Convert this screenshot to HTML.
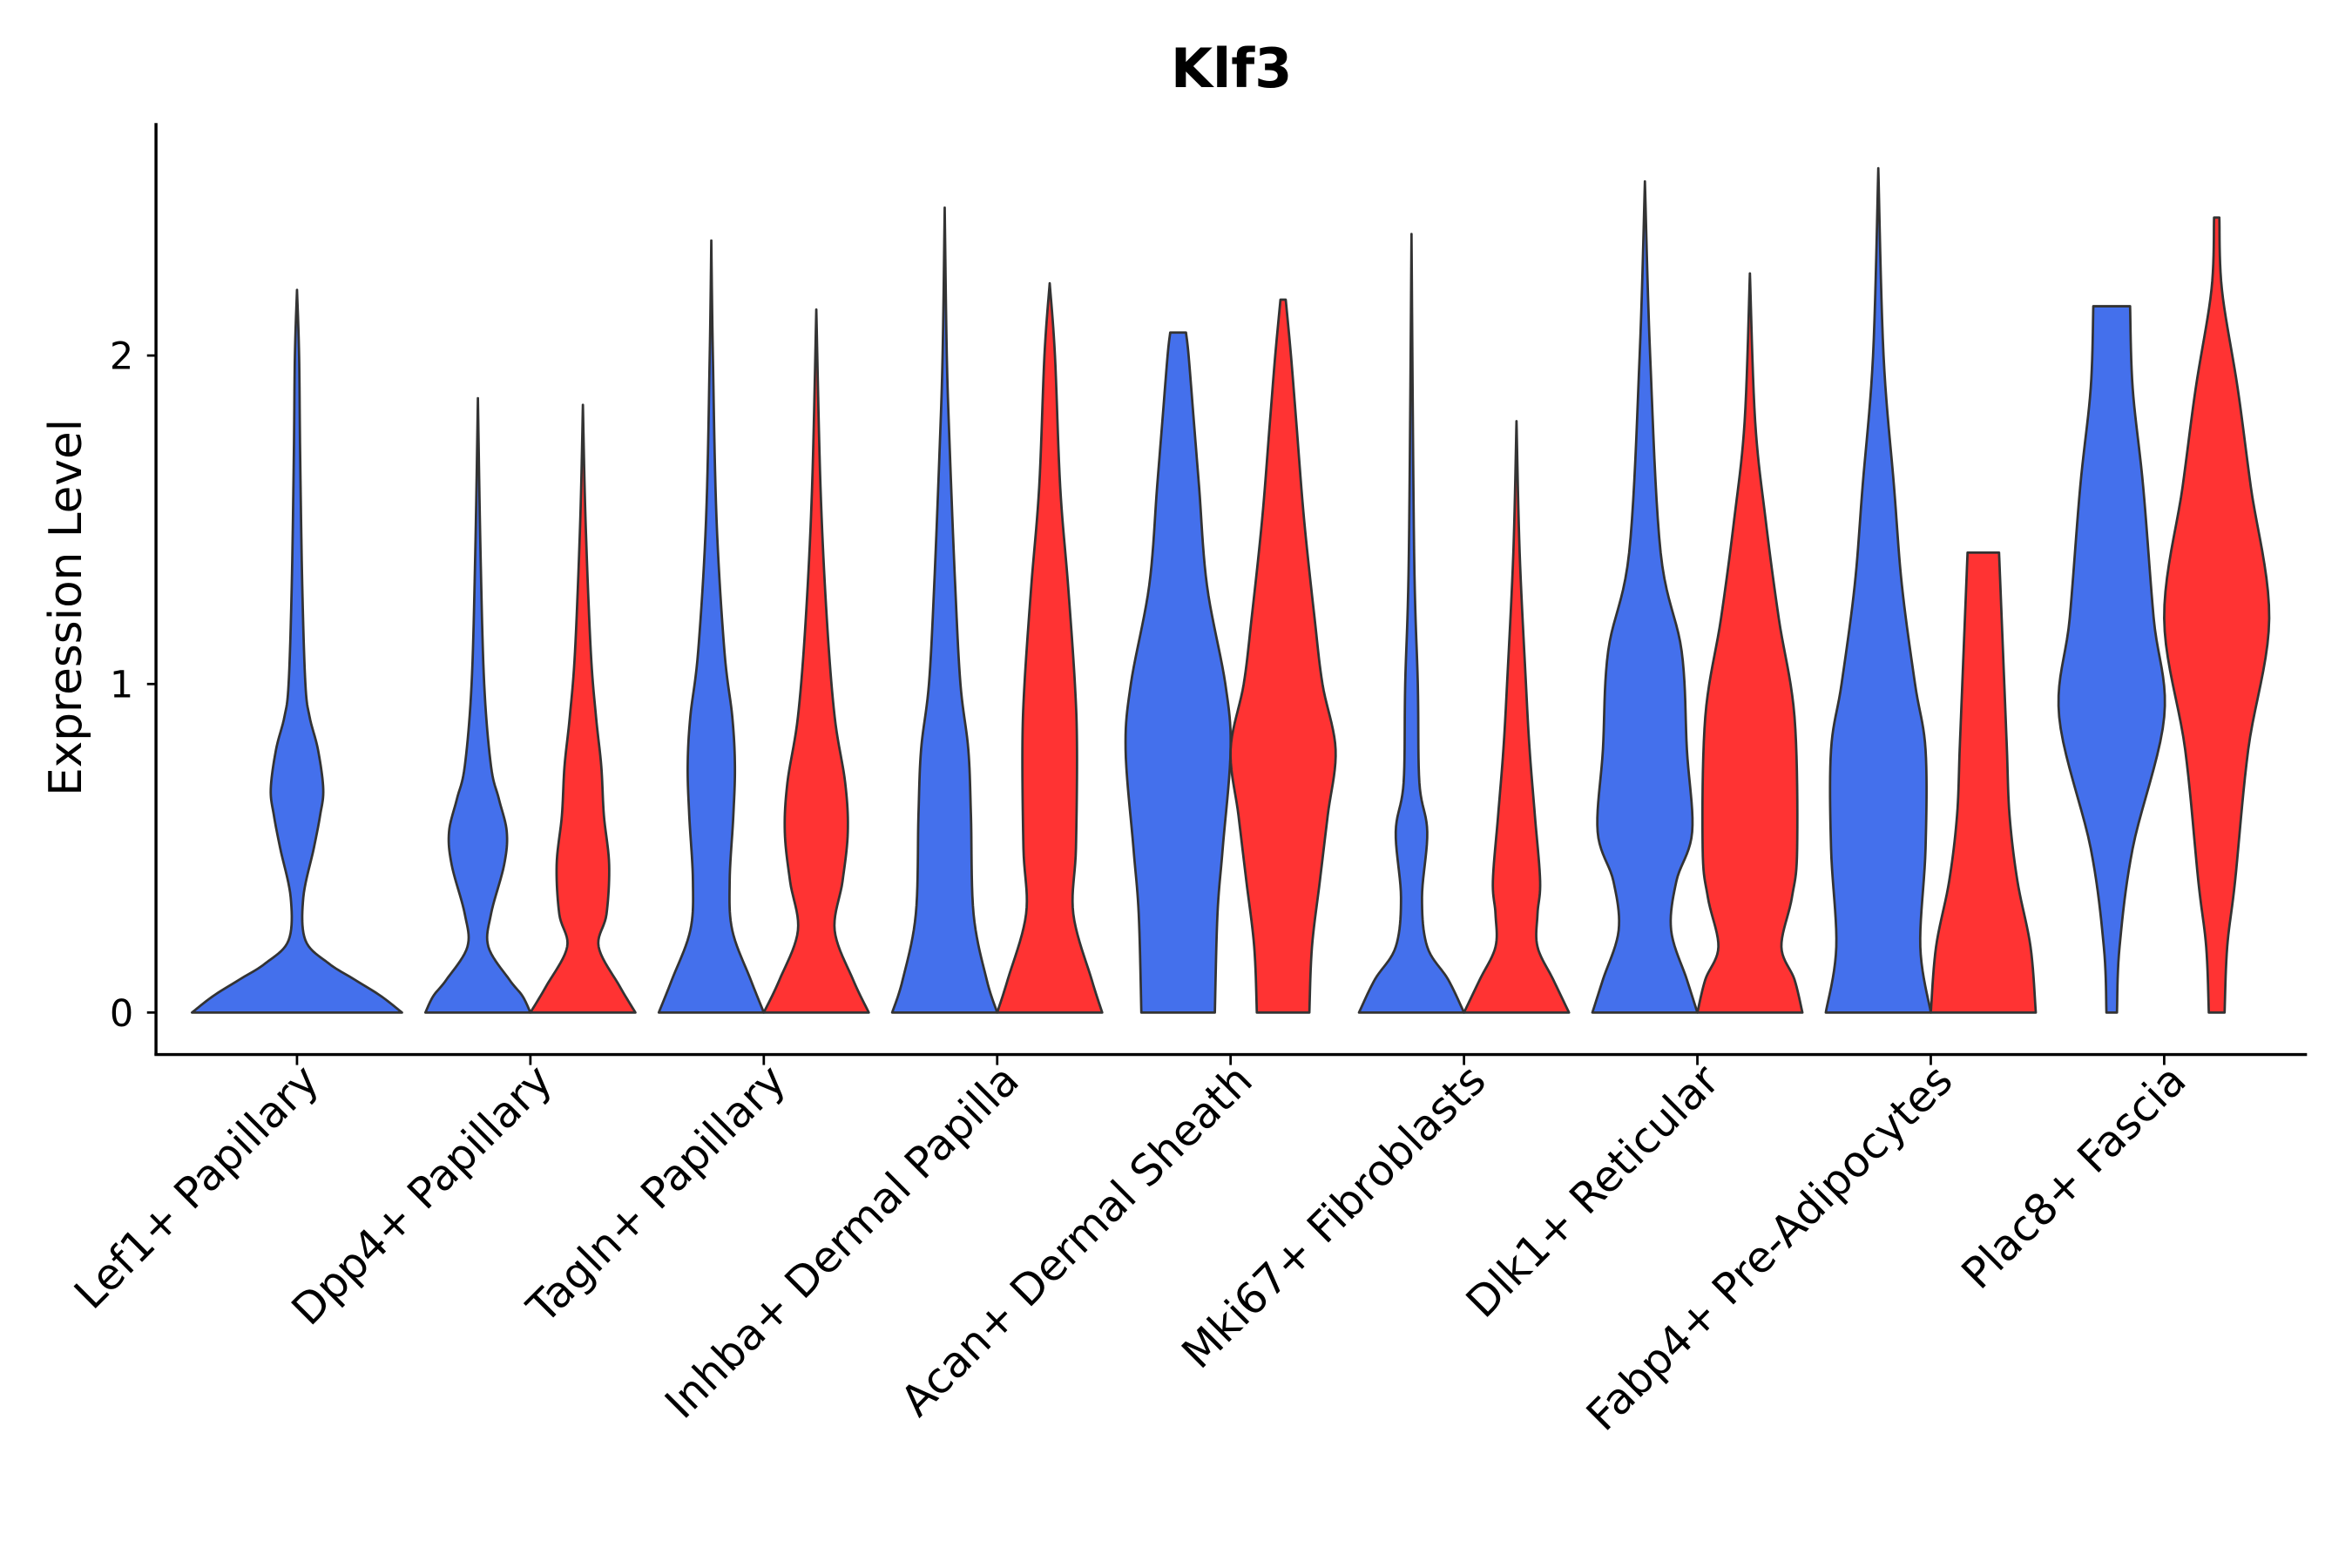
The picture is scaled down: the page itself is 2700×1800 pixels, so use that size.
<!DOCTYPE html>
<html><head><meta charset="utf-8"><style>html,body{margin:0;padding:0;background:#fff}svg{display:block}text{font-family:"DejaVu Sans","Liberation Sans",sans-serif;fill:#000}</style></head>
<body>
<svg id="chart" width="2700" height="1800" viewBox="0 0 1568 1045.3" xmlns="http://www.w3.org/2000/svg">
<text x="821" y="58" text-anchor="middle" font-size="36" font-weight="bold">Klf3</text>
<text transform="translate(54,405) rotate(-90)" text-anchor="middle" font-size="30">Expression Level</text>
<g id="marks"></g>
<line x1="104" y1="82" x2="104" y2="703.5" stroke="#000" stroke-width="2"/>
<line x1="103" y1="703" x2="1538" y2="703" stroke="#000" stroke-width="2"/>
<g id="axes"></g>
</svg>
<script>
const categories=["Lef1+ Papillary","Dpp4+ Papillary","Tagln+ Papillary","Inhba+ Dermal Papilla","Acan+ Dermal Sheath","Mki67+ Fibroblasts","Dlk1+ Reticular","Fabp4+ Pre-Adipocytes","Plac8+ Fascia"];
const yTicks=[0,1,2];
const blueProfiles=[
[[0,1],[0.05,0.8],[0.1,0.55],[0.15,0.3],[0.22,0.08],[0.35,0.06],[0.5,0.16],[0.6,0.22],[0.68,0.25],[0.8,0.2],[0.9,0.12],[1.0,0.08],[1.3,0.05],[1.7,0.03],[2.0,0.02],[2.2,0]],
[[0,1],[0.05,0.85],[0.1,0.6],[0.2,0.2],[0.3,0.25],[0.45,0.5],[0.55,0.55],[0.65,0.4],[0.75,0.25],[1.0,0.12],[1.4,0.05],[1.87,0]],
[[0,1],[0.1,0.75],[0.25,0.4],[0.4,0.35],[0.6,0.42],[0.75,0.45],[0.9,0.4],[1.1,0.25],[1.5,0.1],[2.0,0.03],[2.35,0]],
[[0,1],[0.1,0.8],[0.3,0.55],[0.6,0.5],[0.8,0.45],[1.0,0.3],[1.3,0.2],[1.7,0.1],[2.0,0.04],[2.45,0]],
[[0,0.7],[0.3,0.75],[0.5,0.85],[0.8,1.0],[1.0,0.9],[1.3,0.55],[1.6,0.4],[1.8,0.3],[2.0,0.2],[2.07,0.15]],
[[0,1],[0.1,0.7],[0.2,0.3],[0.35,0.2],[0.55,0.3],[0.7,0.15],[1.0,0.12],[1.4,0.05],[2.37,0]],
[[0,1],[0.1,0.8],[0.25,0.5],[0.4,0.6],[0.55,0.9],[0.8,0.8],[1.1,0.7],[1.4,0.3],[2.0,0.1],[2.53,0]],
[[0,1],[0.2,0.8],[0.5,0.9],[0.8,0.9],[1.0,0.7],[1.3,0.45],[1.6,0.3],[2.0,0.1],[2.57,0]],
[[0,0.1],[0.2,0.15],[0.5,0.4],[0.9,1.0],[1.2,0.8],[1.6,0.6],[1.9,0.4],[2.15,0.35]]];
const redProfiles=[
null,
[[0,1],[0.08,0.7],[0.2,0.3],[0.3,0.45],[0.45,0.5],[0.6,0.4],[0.75,0.35],[0.9,0.25],[1.1,0.15],[1.5,0.05],[1.85,0]],
[[0,1],[0.1,0.7],[0.25,0.35],[0.4,0.5],[0.55,0.6],[0.7,0.55],[0.9,0.35],[1.2,0.2],[1.6,0.08],[2.14,0]],
[[0,1],[0.1,0.8],[0.3,0.45],[0.5,0.5],[0.8,0.52],[1.0,0.48],[1.3,0.35],[1.6,0.2],[2.0,0.1],[2.22,0]],
[[0,0.5],[0.2,0.55],[0.4,0.7],[0.6,0.85],[0.8,1.0],[1.0,0.75],[1.2,0.6],[1.5,0.4],[1.8,0.25],[2.0,0.15],[2.17,0.05]],
[[0,1],[0.1,0.7],[0.2,0.4],[0.3,0.4],[0.4,0.45],[0.6,0.35],[0.8,0.25],[1.0,0.18],[1.4,0.06],[1.8,0]],
[[0,1],[0.1,0.85],[0.2,0.6],[0.35,0.8],[0.5,0.9],[0.9,0.85],[1.2,0.55],[1.5,0.3],[1.8,0.1],[2.25,0]],
[[0,1],[0.2,0.9],[0.4,0.65],[0.6,0.5],[0.8,0.45],[1.0,0.4],[1.2,0.35],[1.4,0.3]],
[[0,0.15],[0.2,0.2],[0.4,0.35],[0.8,0.6],[1.2,1.0],[1.6,0.65],[1.9,0.4],[2.2,0.1],[2.42,0.05]]];

const NS="http://www.w3.org/2000/svg";
function xScale(i){return 198+i*155.6;}
function yScale(v){return 675-v*219;}
function smoothPts(p){
  const out=[];
  for(let i=0;i<p.length-1;i++){
    const p0=p[Math.max(0,i-1)],p1=p[i],p2=p[i+1],p3=p[Math.min(p.length-1,i+2)];
    for(let t=0;t<1;t+=0.1){
      const t2=t*t,t3=t2*t;
      const f=(a,b,c,d)=>0.5*(2*b+(-a+c)*t+(2*a-5*b+4*c-d)*t2+(-a+3*b-3*c+d)*t3);
      out.push([f(p0[0],p1[0],p2[0],p3[0]),Math.max(0,f(p0[1],p1[1],p2[1],p3[1]))]);
    }
  }
  out.push(p[p.length-1]);return out;
}
function violin(cx,hw,prof,color,name){
  const pts=smoothPts(prof);
  let right=pts.map(p=>[cx+p[1]*hw,yScale(p[0])]);
  let left=pts.slice().reverse().map(p=>[cx-p[1]*hw,yScale(p[0])]);
  const all=right.concat(left);
  const d="M"+all.map(p=>p[0].toFixed(2)+","+p[1].toFixed(2)).join("L")+"Z";
  const el=document.createElementNS(NS,"path");
  el.setAttribute("d",d);el.setAttribute("fill",color);el.setAttribute("stroke","#333");
  el.setAttribute("stroke-width","1.6");el.setAttribute("stroke-linejoin","round");
  
  
  document.getElementById("marks").appendChild(el);
}
categories.forEach((c,i)=>{
  const cx=xScale(i);
  if(!redProfiles[i]){violin(cx,70,blueProfiles[i],"#4470EC","violin-blue-"+i);}
  else{violin(cx-35,35,blueProfiles[i],"#4470EC","violin-blue-"+i);violin(cx+35,35,redProfiles[i],"#FF3333","violin-red-"+i);}
});
const ax=document.getElementById("axes");
yTicks.forEach(v=>{
  const y=yScale(v);
  const l=document.createElementNS(NS,"line");
  l.setAttribute("x1",98);l.setAttribute("x2",104);l.setAttribute("y1",y);l.setAttribute("y2",y);l.setAttribute("stroke","#000");l.setAttribute("stroke-width","1.6");
  
  
  ax.appendChild(l);
  const t=document.createElementNS(NS,"text");
  t.setAttribute("x",89);t.setAttribute("y",y+9);t.setAttribute("text-anchor","end");t.setAttribute("font-size","25");t.textContent=v;
  
  
  ax.appendChild(t);
});
categories.forEach((c,i)=>{
  const x=xScale(i);
  const l=document.createElementNS(NS,"line");
  l.setAttribute("x1",x);l.setAttribute("x2",x);l.setAttribute("y1",703);l.setAttribute("y2",710);l.setAttribute("stroke","#000");l.setAttribute("stroke-width","1.6");
  
  
  ax.appendChild(l);
  const t=document.createElementNS(NS,"text");
  t.setAttribute("transform","translate("+(x+16)+",722) rotate(-45)");
  t.setAttribute("text-anchor","end");t.setAttribute("font-size","28.5");t.textContent=c;
  
  
  ax.appendChild(t);
});
</script>
</body></html>
